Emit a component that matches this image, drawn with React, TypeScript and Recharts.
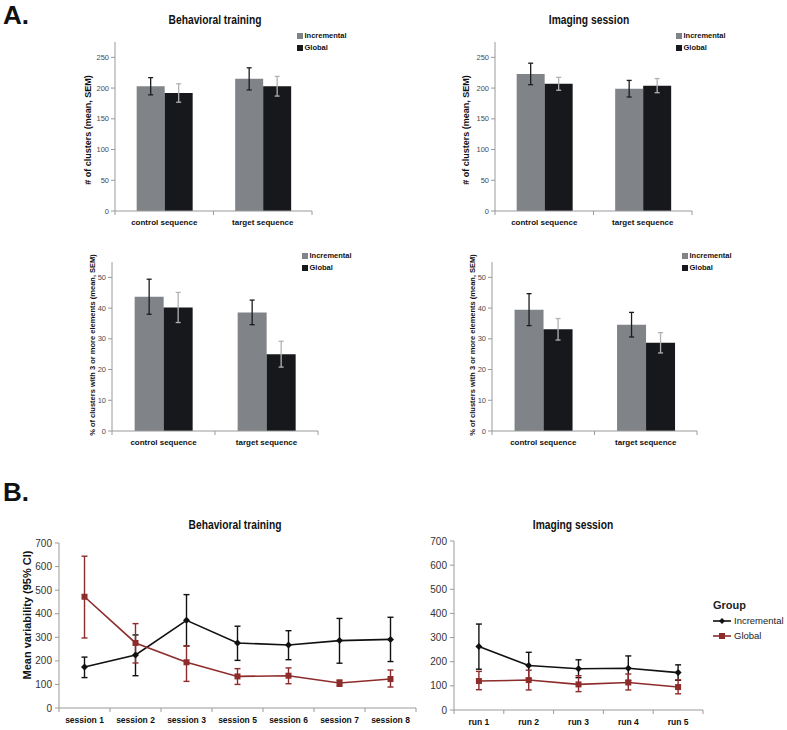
import React from 'react';
import { BarChart, Bar, LineChart, Line, XAxis, YAxis, ErrorBar } from 'recharts';

const FONT = '"Liberation Sans", Arial, sans-serif';

const INCR_BAR = '#808489';
const GLOB_BAR = '#16181b';
const INCR_ERR = '#1c1c1c';
const GLOB_ERR = '#b2b2b2';
const AXIS = '#9a9a9a';
const LINE_INCR = '#111111';
const LINE_GLOB = '#8e2c2c';

const sequenceLabels = ['control sequence', 'target sequence'];
const groupNames = ['Incremental', 'Global'];

// A: # of clusters (mean, SEM)
const trainClustersIncremental = [203, 215];
const trainClustersIncrementalSem = [14, 18];
const trainClustersGlobal = [192, 203];
const trainClustersGlobalSem = [15, 16];
const imagingClustersIncremental = [223, 199];
const imagingClustersIncrementalSem = [17.5, 13.5];
const imagingClustersGlobal = [207, 204];
const imagingClustersGlobalSem = [10.5, 11.5];
const clusterTicks = [0, 50, 100, 150, 200, 250];

// A: % of clusters with 3 or more elements (mean, SEM)
const trainPctIncremental = [43.7, 38.6];
const trainPctIncrementalSem = [5.7, 4.0];
const trainPctGlobal = [40.2, 25.0];
const trainPctGlobalSem = [4.9, 4.2];
const imagingPctIncremental = [39.5, 34.6];
const imagingPctIncrementalSem = [5.2, 4.0];
const imagingPctGlobal = [33.1, 28.7];
const imagingPctGlobalSem = [3.5, 3.3];
const pctTicks = [0, 10, 20, 30, 40, 50];

// B: mean variability (95% CI)
const sessionLabels = ['session 1', 'session 2', 'session 3', 'session 5', 'session 6', 'session 7', 'session 8'];
const sessionIncremental = [174, 225, 372, 276, 267, 286, 291];
const sessionIncrementalLow = [129, 137, 263, 202, 205, 190, 197];
const sessionIncrementalHigh = [216, 310, 481, 347, 328, 380, 385];
const sessionGlobal = [472, 276, 194, 134, 137, 106, 123];
const sessionGlobalLow = [297, 191, 113, 100, 103, 92, 89];
const sessionGlobalHigh = [644, 358, 264, 167, 170, 119, 161];

const runLabels = ['run 1', 'run 2', 'run 3', 'run 4', 'run 5'];
const runIncremental = [263, 184, 171, 173, 155];
const runIncrementalLow = [169, 130, 134, 122, 123];
const runIncrementalHigh = [356, 239, 208, 224, 187];
const runGlobal = [120, 124, 106, 114, 95];
const runGlobalLow = [84, 83, 76, 83, 67];
const runGlobalHigh = [160, 165, 142, 149, 125];

const variabilityTicks = [0, 100, 200, 300, 400, 500, 600, 700];

const buildBarRows = (incr: number[], incrSem: number[], glob: number[], globSem: number[]) =>
  sequenceLabels.map((name, i) => ({
    name,
    incr: incr[i],
    incrSem: incrSem[i],
    glob: glob[i],
    globSem: globSem[i],
  }));

const buildLineRows = (
  labels: string[],
  incr: number[], incrLow: number[], incrHigh: number[],
  glob: number[], globLow: number[], globHigh: number[]
) =>
  labels.map((name, i) => ({
    name,
    incr: incr[i],
    incrErr: [incr[i] - incrLow[i], incrHigh[i] - incr[i]],
    glob: glob[i],
    globErr: [glob[i] - globLow[i], globHigh[i] - glob[i]],
  }));

// x tick with Excel-style marks on the category boundaries
const makeCategoryTick = (fontSize: number, half: number, gap: number) => (props: any) => {
  const { x, y, payload, index, visibleTicksCount } = props;
  const axisY = y - gap;
  const last = index === visibleTicksCount - 1;
  return (
    <g key={`tick-${index}`}>
      <line x1={x - half} x2={x - half} y1={axisY} y2={axisY + 4} stroke={AXIS} />
      {last && <line x1={x + half} x2={x + half} y1={axisY} y2={axisY + 4} stroke={AXIS} />}
      <text
        x={x}
        y={y}
        dy="0.75em"
        textAnchor="middle"
        fontSize={fontSize}
        fontWeight="bold"
        fontFamily={FONT}
        fill="#111"
      >
        {payload.value}
      </text>
    </g>
  );
};

interface BarPanelProps {
  left: number;
  top: number;
  margin: { top: number; right: number; bottom: number; left: number };
  rows: any[];
  yMax: number;
  yTicks: number[];
}

const BAR_W = 260;
const BAR_H = 200;
const BAR_YAXIS = 26;

const BarPanel: React.FC<BarPanelProps> = ({ left, top, margin, rows, yMax, yTicks }) => {
  const half = (BAR_W - margin.left - margin.right - BAR_YAXIS) / rows.length / 2;
  return (
    <div style={{ position: 'absolute', left, top }}>
      <BarChart
        width={BAR_W}
        height={BAR_H}
        data={rows}
        margin={margin}
        barCategoryGap="22%"
        barGap={0}
      >
        <XAxis
          dataKey="name"
          interval={0}
          height={17}
          tickSize={4}
          tickMargin={4}
          tickLine={false}
          axisLine={{ stroke: AXIS }}
          tick={makeCategoryTick(8, half, 8)}
        />
        <YAxis
          domain={[0, yMax]}
          ticks={yTicks}
          width={BAR_YAXIS}
          tickSize={4}
          tickMargin={2}
          axisLine={{ stroke: AXIS }}
          tickLine={{ stroke: AXIS }}
          tick={{ fill: '#4a4a4a', fontSize: 7.5, fontFamily: FONT }}
        />
        <Bar dataKey="incr" fill={INCR_BAR} isAnimationActive={false}>
          <ErrorBar dataKey="incrSem" width={2.5} stroke={INCR_ERR} strokeWidth={1.3} />
        </Bar>
        <Bar dataKey="glob" fill={GLOB_BAR} isAnimationActive={false}>
          <ErrorBar dataKey="globSem" width={2.5} stroke={GLOB_ERR} strokeWidth={1.3} />
        </Bar>
      </BarChart>
    </div>
  );
};

const Diamond = (props: any) => {
  const { cx, cy, index } = props;
  if (cx == null || cy == null) return null;
  const r = 3.5;
  return (
    <path
      key={`dia-${index}`}
      d={`M${cx},${cy - r}L${cx + r},${cy}L${cx},${cy + r}L${cx - r},${cy}Z`}
      fill={LINE_INCR}
    />
  );
};

const Square = (props: any) => {
  const { cx, cy, index } = props;
  if (cx == null || cy == null) return null;
  return <rect key={`sq-${index}`} x={cx - 3} y={cy - 3} width={6} height={6} fill={LINE_GLOB} />;
};

interface LinePanelProps {
  left: number;
  top: number;
  width: number;
  height: number;
  xHeight: number;
  margin: { top: number; right: number; bottom: number; left: number };
  rows: any[];
}

const LINE_YAXIS = 34;

const LinePanel: React.FC<LinePanelProps> = ({ left, top, width, height, xHeight, margin, rows }) => {
  const half = (width - margin.left - margin.right - LINE_YAXIS) / rows.length / 2;
  return (
    <div style={{ position: 'absolute', left, top }}>
      <LineChart width={width} height={height} data={rows} margin={margin}>
        <XAxis
          dataKey="name"
          scale="band"
          interval={0}
          height={xHeight}
          tickSize={4}
          tickMargin={5}
          tickLine={false}
          axisLine={{ stroke: AXIS }}
          tick={makeCategoryTick(8.5, half, 9)}
        />
        <YAxis
          domain={[0, 700]}
          ticks={variabilityTicks}
          width={LINE_YAXIS}
          tickSize={4}
          tickMargin={3}
          axisLine={{ stroke: AXIS }}
          tickLine={{ stroke: AXIS }}
          tick={{ fill: '#333', fontSize: 10, fontFamily: FONT }}
        />
        <Line
          dataKey="incr"
          stroke={LINE_INCR}
          strokeWidth={1.6}
          dot={Diamond}
          activeDot={false}
          isAnimationActive={false}
        >
          <ErrorBar dataKey="incrErr" direction="y" width={3} stroke={LINE_INCR} strokeWidth={1.4} />
        </Line>
        <Line
          dataKey="glob"
          stroke={LINE_GLOB}
          strokeWidth={1.6}
          dot={Square}
          activeDot={false}
          isAnimationActive={false}
        >
          <ErrorBar dataKey="globErr" direction="y" width={3} stroke={LINE_GLOB} strokeWidth={1.4} />
        </Line>
      </LineChart>
    </div>
  );
};

// titles are set in a condensed bold face, squeezed horizontally
const Title: React.FC<{ x: number; y: number; text: string }> = ({ x, y, text }) => (
  <div
    style={{
      position: 'absolute',
      left: x,
      top: y,
      transform: 'translate(-50%, -50%) scaleX(0.82)',
      fontFamily: FONT,
      fontWeight: 'bold',
      fontSize: 12.5,
      lineHeight: 1,
      whiteSpace: 'nowrap',
      color: '#111',
    }}
  >
    {text}
  </div>
);

const YLabel: React.FC<{ x: number; y: number; text: string; size: number }> = ({ x, y, text, size }) => (
  <div
    style={{
      position: 'absolute',
      left: x,
      top: y,
      transform: 'translate(-50%, -50%) rotate(-90deg)',
      fontFamily: FONT,
      fontWeight: 'bold',
      fontSize: size,
      lineHeight: 1,
      whiteSpace: 'nowrap',
      color: '#111',
    }}
  >
    {text}
  </div>
);

const BarLegend: React.FC<{ x: number; y: number }> = ({ x, y }) => (
  <div style={{ position: 'absolute', left: x, top: y, fontFamily: FONT, fontWeight: 'bold', fontSize: 7.5 }}>
    {groupNames.map((g, i) => (
      <div key={g} style={{ display: 'flex', alignItems: 'center', height: 12, lineHeight: 1 }}>
        <span
          style={{
            display: 'inline-block',
            width: 6,
            height: 6,
            background: i === 0 ? INCR_BAR : GLOB_BAR,
            marginRight: 1.5,
          }}
        />
        <span style={{ color: '#111' }}>{g}</span>
      </div>
    ))}
  </div>
);

const LineLegend: React.FC<{ x: number; y: number }> = ({ x, y }) => (
  <div style={{ position: 'absolute', left: x, top: y, fontFamily: FONT, color: '#222' }}>
    <div style={{ fontWeight: 'bold', fontSize: 11, height: 15, lineHeight: '15px' }}>Group</div>
    {groupNames.map((g, i) => {
      const c = i === 0 ? LINE_INCR : LINE_GLOB;
      return (
        <div key={g} style={{ display: 'flex', alignItems: 'center', height: 15, fontSize: 9.5 }}>
          <svg width={18} height={8} style={{ marginRight: 3 }}>
            <line x1={0} x2={18} y1={4} y2={4} stroke={c} strokeWidth={1.6} />
            {i === 0 ? (
              <path d="M9,1L12,4L9,7L6,4Z" fill={c} />
            ) : (
              <rect x={6} y={1} width={6} height={6} fill={c} />
            )}
          </svg>
          <span>{g}</span>
        </div>
      );
    })}
  </div>
);

const PanelLetter: React.FC<{ y: number; text: string }> = ({ y, text }) => (
  <div
    style={{
      position: 'absolute',
      left: 3,
      top: y,
      fontFamily: FONT,
      fontWeight: 'bold',
      fontSize: 26,
      lineHeight: '26px',
      color: '#111',
    }}
  >
    {text}
  </div>
);

export default function App() {
  const trainClusters = buildBarRows(trainClustersIncremental, trainClustersIncrementalSem, trainClustersGlobal, trainClustersGlobalSem);
  const imagingClusters = buildBarRows(imagingClustersIncremental, imagingClustersIncrementalSem, imagingClustersGlobal, imagingClustersGlobalSem);
  const trainPct = buildBarRows(trainPctIncremental, trainPctIncrementalSem, trainPctGlobal, trainPctGlobalSem);
  const imagingPct = buildBarRows(imagingPctIncremental, imagingPctIncrementalSem, imagingPctGlobal, imagingPctGlobalSem);
  const sessions = buildLineRows(sessionLabels, sessionIncremental, sessionIncrementalLow, sessionIncrementalHigh, sessionGlobal, sessionGlobalLow, sessionGlobalHigh);
  const runs = buildLineRows(runLabels, runIncremental, runIncrementalLow, runIncrementalHigh, runGlobal, runGlobalLow, runGlobalHigh);

  return (
    <div
      style={{
        position: 'absolute',
        left: 0,
        top: 0,
        width: 787,
        height: 730,
        background: '#fff',
        overflow: 'hidden',
      }}
    >
      <PanelLetter y={2} text="A." />
      <PanelLetter y={479} text="B." />

      <Title x={215} y={20} text="Behavioral training" />
      <Title x={589} y={20} text="Imaging session" />
      <Title x={235} y={525} text="Behavioral training" />
      <Title x={573} y={525} text="Imaging session" />

      <BarPanel left={75} top={30} margin={{ top: 12, right: 23, bottom: 2, left: 14 }} rows={trainClusters} yMax={275} yTicks={clusterTicks} />
      <BarPanel left={455} top={30} margin={{ top: 12, right: 23, bottom: 2, left: 14 }} rows={imagingClusters} yMax={275} yTicks={clusterTicks} />
      <BarPanel left={75} top={250} margin={{ top: 12, right: 17, bottom: 2, left: 11 }} rows={trainPct} yMax={55} yTicks={pctTicks} />
      <BarPanel left={455} top={250} margin={{ top: 12, right: 18, bottom: 2, left: 11 }} rows={imagingPct} yMax={55} yTicks={pctTicks} />

      <YLabel x={88} y={130} text="# of clusters (mean, SEM)" size={9} />
      <YLabel x={466} y={130} text="# of clusters (mean, SEM)" size={9} />
      <YLabel x={92.5} y={345} text="% of clusters with 3 or more elements (mean, SEM)" size={7.5} />
      <YLabel x={472.5} y={345} text="% of clusters with 3 or more elements (mean, SEM)" size={7.5} />

      <BarLegend x={297} y={30} />
      <BarLegend x={676} y={30} />
      <BarLegend x={302} y={250} />
      <BarLegend x={682} y={250} />

      <LinePanel left={25} top={535} width={401} height={195} xHeight={20} margin={{ top: 8, right: 10, bottom: 2, left: 0 }} rows={sessions} />
      <LinePanel left={420} top={533} width={293} height={197} xHeight={18} margin={{ top: 8, right: 10, bottom: 2, left: 0 }} rows={runs} />

      <YLabel x={26.5} y={615} text="Mean variability (95% CI)" size={11} />
      <LineLegend x={713} y={598} />
    </div>
  );
}
